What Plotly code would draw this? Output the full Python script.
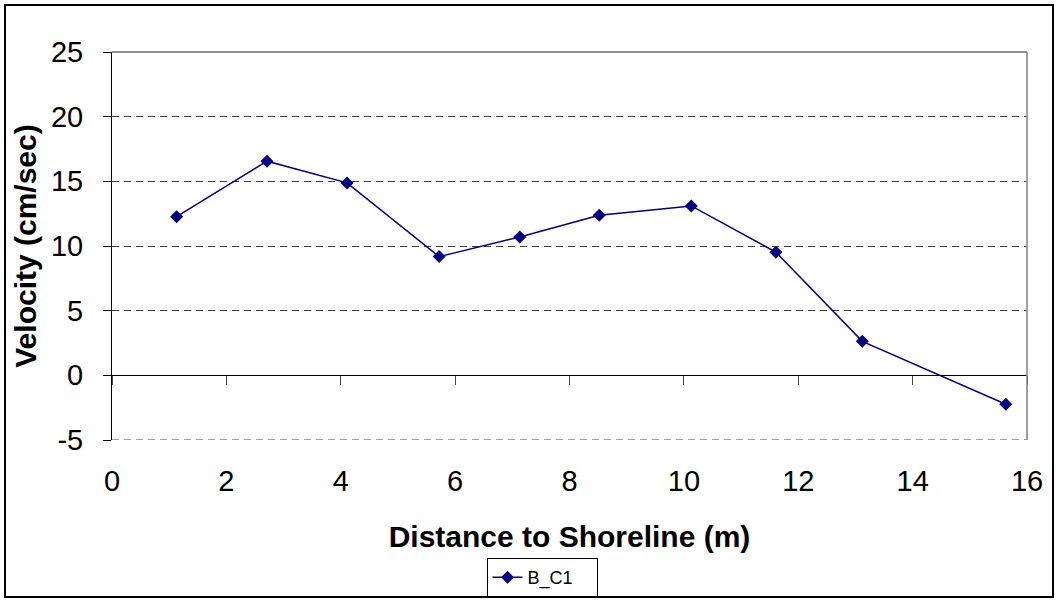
import plotly.graph_objects as go

# Data
distance_m = [1.13, 2.71, 4.11, 5.72, 7.13, 8.52, 10.13, 11.61, 13.12, 15.63]
velocity_cm_s = [12.27, 16.56, 14.88, 9.18, 10.70, 12.38, 13.10, 9.52, 2.63, -2.24]
series_name = "B_C1"
x_range = [0, 16]
y_range = [-5, 25]
x_tick_vals = [0, 2, 4, 6, 8, 10, 12, 14, 16]
y_tick_vals = [-5, 0, 5, 10, 15, 20, 25]
y_tick_text = ["-5", "0", "5", "10", "15", "20", "25"]

FONT = "Arial, 'Liberation Sans', sans-serif"
NAVY = "#000080"
GRID = "#404040"

W, H = 1058, 602
ML, MR, MT, MB = 112, 31, 52, 162
pw = W - ML - MR
ph = H - MT - MB


def px_x(p):
    return (p - ML) / pw


def px_y(p):
    return (H - MB - p) / ph


fig = go.Figure()
fig.add_trace(go.Scatter(
    x=distance_m, y=velocity_cm_s, name=series_name,
    mode="lines+markers",
    line=dict(color=NAVY, width=1.5),
    marker=dict(symbol="diamond", size=10, color=NAVY),
    cliponaxis=False,
))
# helper trace so the zero-crossing axis renders
fig.add_trace(go.Scatter(
    x=distance_m, y=velocity_cm_s, xaxis="x2", mode="markers",
    marker=dict(opacity=0), showlegend=False, hoverinfo="skip",
))

zero_pos = (0 - y_range[0]) / (y_range[1] - y_range[0])

fig.update_layout(
    width=W, height=H,
    margin=dict(l=ML, r=MR, t=MT, b=MB, autoexpand=False),
    paper_bgcolor="white", plot_bgcolor="white",
    font=dict(family=FONT, color="black", size=29),
    showlegend=True,
    legend=dict(
        x=px_x(542), xanchor="center", y=px_y(558), yanchor="top",
        orientation="h", entrywidth=64, entrywidthmode="pixels",
        bordercolor="black", borderwidth=1,
        font=dict(size=18, family=FONT),
        bgcolor="white",
        itemwidth=30,
    ),
    xaxis=dict(
        range=x_range, tickvals=x_tick_vals,
        showgrid=False, zeroline=False, showline=False,
        ticks="", ticklabelstandoff=21,
        tickfont=dict(size=29),
        title=dict(text="<b>Distance to Shoreline (m)</b>", font=dict(size=30), standoff=29),
    ),
    xaxis2=dict(
        range=x_range, tickvals=x_tick_vals, overlaying="x",
        anchor="free", position=zero_pos, side="bottom",
        showgrid=False, zeroline=False, showline=True, linecolor="black", linewidth=1,
        ticks="outside", ticklen=9, tickcolor="#444", showticklabels=False,
    ),
    yaxis=dict(
        range=y_range, tickvals=y_tick_vals, ticktext=y_tick_text,
        showgrid=True, gridcolor=GRID, griddash="7px,5px", gridwidth=1,
        zeroline=False, showline=True, linecolor="black", linewidth=1,
        ticks="outside", ticklen=8, tickcolor="black",
        ticklabelstandoff=14,
        tickfont=dict(size=29),
        title=dict(text="<b>Velocity (cm/sec)</b>", font=dict(size=30), standoff=5),
    ),
    shapes=[
        # bottom dashed gridline at the lowest y tick
        dict(type="line", xref="paper", yref="y", x0=0, x1=1,
             y0=y_range[0], y1=y_range[0],
             line=dict(color=GRID, width=1, dash="7px,5px")),
        # plot-area top and right edges
        dict(type="line", xref="paper", yref="paper", x0=0, x1=1, y0=1, y1=1,
             line=dict(color="#222", width=1)),
        dict(type="line", xref="paper", yref="paper", x0=1, x1=1, y0=0, y1=1,
             line=dict(color="#808080", width=1.5)),
        # outer chart border
        dict(type="rect", xref="paper", yref="paper",
             x0=px_x(5), x1=px_x(1053), y0=px_y(597), y1=px_y(5),
             line=dict(color="black", width=2), fillcolor="rgba(0,0,0,0)", layer="below"),
    ],
)

fig.write_html("out.html", config={"displayModeBar": False},
               post_script="document.body.style.margin='0';")
